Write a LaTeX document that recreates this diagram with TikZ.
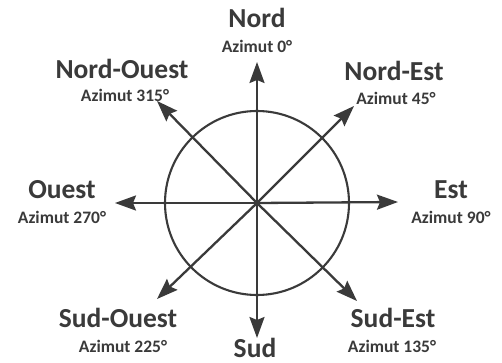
\documentclass[tikz,border=0pt]{standalone}
\usepackage{fontspec}
\setmainfont{Carlito}
\usetikzlibrary{arrows.meta}
\definecolor{ink}{HTML}{3A3A3A}
\begin{document}
\begin{tikzpicture}[x=1pt,y=-1pt,
  dirlabel/.style={font=\fontsize{27.5}{30}\selectfont\bfseries, text=ink, inner sep=0pt, anchor=base},
  azlabel/.style={font=\fontsize{17.5}{19}\selectfont\bfseries, text=ink, inner sep=0pt, anchor=base},
  ray/.style={draw=ink, line width=2.3pt, -{Stealth[length=21pt,width=15pt,inset=3pt]}}]
\useasboundingbox (0,0) rectangle (502,363);
\fill[white] (0,0) rectangle (502,363);
\coordinate (O) at (257,203);
\node[circle, draw=ink, line width=2.1pt, minimum size=184pt, inner sep=0pt] (ring) at (O) {};
\coordinate (tN) at (257,62);
\coordinate (tS) at (257,338);
\coordinate (tW) at (115,203);
\coordinate (tE) at (398,202);
\coordinate (tNW) at (157,101);
\coordinate (tNE) at (354,106);
\coordinate (tSW) at (157,299);
\coordinate (tSE) at (357,301);
\foreach \t in {tN,tS,tW,tE,tNW,tNE,tSW,tSE} \draw[ray] (O) -- (\t);
% labels
\node[dirlabel] (nN) at (257,28) {Nord};
\node[azlabel] (aN) at (257,53) {Azimut 0°};
\node[dirlabel] (nNW) at (122,79) {Nord-Ouest};
\node[azlabel] (aNW) at (125,102) {Azimut 315°};
\node[dirlabel] (nNE) at (394,81) {Nord-Est};
\node[azlabel] (aNE) at (396,105) {Azimut 45°};
\node[dirlabel] (nW) at (62,198) {Ouest};
\node[azlabel] (aW) at (62,223) {Azimut 270°};
\node[dirlabel] (nE) at (451,198) {Est};
\node[azlabel] (aE) at (451,223) {Azimut 90°};
\node[dirlabel] (nSW) at (118,327) {Sud-Ouest};
\node[azlabel] (aSW) at (123,352) {Azimut 225°};
\node[dirlabel] (nSE) at (393,327) {Sud-Est};
\node[azlabel] (aSE) at (392,352) {Azimut 135°};
\node[dirlabel] (nS) at (255,357) {Sud};
\end{tikzpicture}
\end{document}
